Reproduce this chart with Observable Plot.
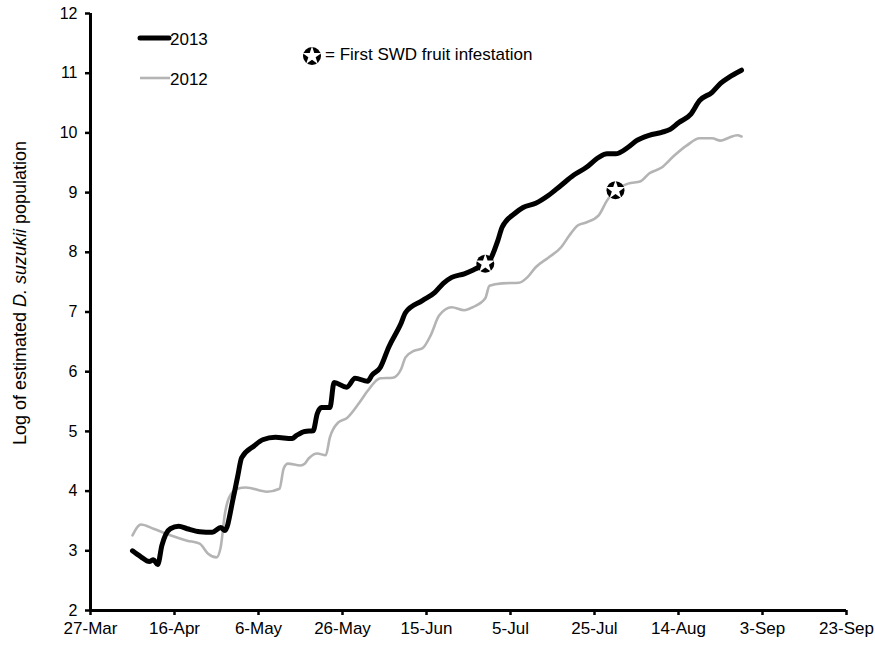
<!DOCTYPE html>
<html><head><meta charset="utf-8">
<script src="https://cdn.jsdelivr.net/npm/d3@7"></script>
<script src="https://cdn.jsdelivr.net/npm/@observablehq/plot@0.6"></script>
<style>body{margin:0;background:#fff;}</style>
</head><body><div id="chart"></div>
<script>
// 2013 season (black)
const dates2013 = ["04-06","04-08","04-10","04-11","04-12","04-13","04-15","04-17","04-19","04-22","04-25","04-27","04-28","04-30",
  "05-01","05-02","05-05","05-07","05-10","05-14","05-15","05-17","05-19","05-20","05-21","05-23","05-24","05-27","05-29",
  "06-01","06-02","06-04","06-06","06-09","06-10","06-14","06-17","06-19","06-21","06-24","06-26","06-29","06-30",
  "07-02","07-03","07-06","07-08","07-11","07-14","07-17","07-20","07-23","07-26","07-28","07-30",
  "08-02","08-04","08-07","08-10","08-12","08-14","08-17","08-19","08-22","08-24","08-26","08-29"];
const values2013 = [3.00,2.90,2.82,2.85,2.77,3.09,3.37,3.41,3.37,3.32,3.31,3.39,3.34,3.89,
  4.23,4.56,4.76,4.86,4.90,4.88,4.93,5.00,5.01,5.30,5.40,5.40,5.82,5.74,5.89,
  5.84,5.94,6.07,6.41,6.82,6.99,7.19,7.33,7.48,7.58,7.64,7.70,7.81,7.86,
  8.20,8.42,8.65,8.75,8.82,8.95,9.12,9.29,9.42,9.59,9.65,9.65,
  9.76,9.87,9.96,10.01,10.06,10.17,10.32,10.54,10.68,10.83,10.93,11.05];
// 2012 season (grey)
const dates2012 = ["04-06","04-08","04-11","04-15","04-19","04-22","04-24","04-26","04-27","04-28","04-29",
  "05-01","05-03","05-08","05-11","05-12","05-13","05-16","05-17","05-18","05-20","05-22","05-23","05-25","05-27","05-30",
  "06-01","06-04","06-07","06-09","06-10","06-12","06-14","06-16","06-18","06-21","06-24","06-26","06-29","06-30",
  "07-03","07-07","07-09","07-11","07-14","07-17","07-19","07-21","07-23","07-26","07-28","07-30",
  "08-02","08-05","08-07","08-10","08-13","08-16","08-19","08-22","08-24","08-26","08-28","08-29"];
const values2012 = [3.26,3.44,3.37,3.26,3.17,3.12,2.95,2.89,3.06,3.62,3.89,
  4.04,4.06,3.99,4.04,4.38,4.46,4.43,4.46,4.55,4.63,4.60,4.90,5.15,5.22,5.48,
  5.68,5.89,5.90,6.05,6.24,6.35,6.39,6.61,6.94,7.08,7.03,7.08,7.23,7.44,
  7.48,7.49,7.58,7.75,7.91,8.08,8.28,8.45,8.50,8.62,8.87,9.04,
  9.15,9.19,9.32,9.42,9.62,9.79,9.91,9.91,9.87,9.92,9.96,9.94];
// first SWD fruit infestation
const starDates = ["06-29","07-30"];
const starValues = [7.81, 9.04];
const xTickDates = ["03-27","04-16","05-06","05-26","06-15","07-05","07-25","08-14","09-03","09-23"];
const yTicks = [2,3,4,5,6,7,8,9,10,11,12];
const seriesNames = ["2013","2012"];
const legendStarText = "= First SWD fruit infestation";

const parse = s => new Date(Date.UTC(2013, +s.slice(0,2) - 1, +s.slice(3)));
const data2013 = dates2013.map((d,i) => ({date: parse(d), value: values2013[i]}));
const data2012 = dates2012.map((d,i) => ({date: parse(d), value: values2012[i]}));
const stars = starDates.map((d,i) => ({date: parse(d), value: starValues[i]}));
const xDomain = [parse(xTickDates[0]), parse(xTickDates[xTickDates.length-1])];
const fmt = d3.utcFormat("%-d-%b");
const GREY = "#b4b4b4";

const chart = Plot.plot({
  width: 875, height: 645,
  marginLeft: 90, marginRight: 29, marginTop: 13, marginBottom: 35,
  style: {fontFamily: "'Liberation Sans', Arial, sans-serif", fontSize: "17px", color: "#000", background: "#fff"},
  x: {type: "utc", domain: xDomain},
  y: {domain: [2, 12]},
  marks: [
    Plot.axisY({ticks: yTicks, tickSize: 5, tickPadding: 8, label: null, strokeWidth: 2.5, fontSize: 16}),
    Plot.axisX({ticks: xTickDates.map(parse), tickFormat: fmt, tickSize: 5, tickPadding: 6, label: null, strokeWidth: 2.5}),
    Plot.ruleX([xDomain[0]], {strokeWidth: 3}),
    Plot.ruleY([2], {strokeWidth: 3}),
    Plot.line(data2012, {x: "date", y: "value", stroke: GREY, strokeWidth: 2.6, curve: "monotone-x", strokeLinejoin: "round"}),
    Plot.line(data2013, {x: "date", y: "value", stroke: "#000", strokeWidth: 5, curve: "monotone-x", strokeLinejoin: "round", strokeLinecap: "round"}),
    Plot.dot(stars, {x: "date", y: "value", r: 9, fill: "#000"}),
    Plot.dot(stars, {x: "date", y: "value", r: 6, symbol: "star", fill: "#fff"})
  ]
});
document.getElementById("chart").appendChild(chart);

const svg = d3.select(chart);
const font = "'Liberation Sans', Arial, sans-serif";
// y-axis title
const yl = svg.append("text")
  .attr("transform", "translate(20,293) rotate(-90)")
  .attr("text-anchor", "middle").attr("dy", "0.35em")
  .attr("font-family", font).attr("font-size", 18).attr("fill", "#000");
yl.append("tspan").text("Log of estimated ");
yl.append("tspan").attr("font-style", "italic").text("D. suzukii");
yl.append("tspan").text(" population");

// legend
const lg = svg.append("g").attr("font-family", font).attr("font-size", 17)
  .attr("fill", "#000").attr("text-anchor", "start");
lg.append("line").attr("x1", 140).attr("x2", 169).attr("y1", 38).attr("y2", 38)
  .attr("stroke", "#000").attr("stroke-width", 5).attr("stroke-linecap", "round");
lg.append("text").attr("x", 170).attr("y", 39).attr("dy", "0.35em").text(seriesNames[0]);
lg.append("line").attr("x1", 140).attr("x2", 170).attr("y1", 78).attr("y2", 78)
  .attr("stroke", GREY).attr("stroke-width", 2.6);
lg.append("text").attr("x", 170).attr("y", 79).attr("dy", "0.35em").text(seriesNames[1]);
lg.append("circle").attr("cx", 312).attr("cy", 56).attr("r", 9).attr("fill", "#000");
lg.append("path").attr("transform", "translate(312,56)")
  .attr("d", d3.symbol(d3.symbolStar, 36 * Math.PI)()).attr("fill", "#fff");
lg.append("text").attr("x", 325).attr("y", 54).attr("dy", "0.35em").text(legendStarText);
</script>
</body></html>
